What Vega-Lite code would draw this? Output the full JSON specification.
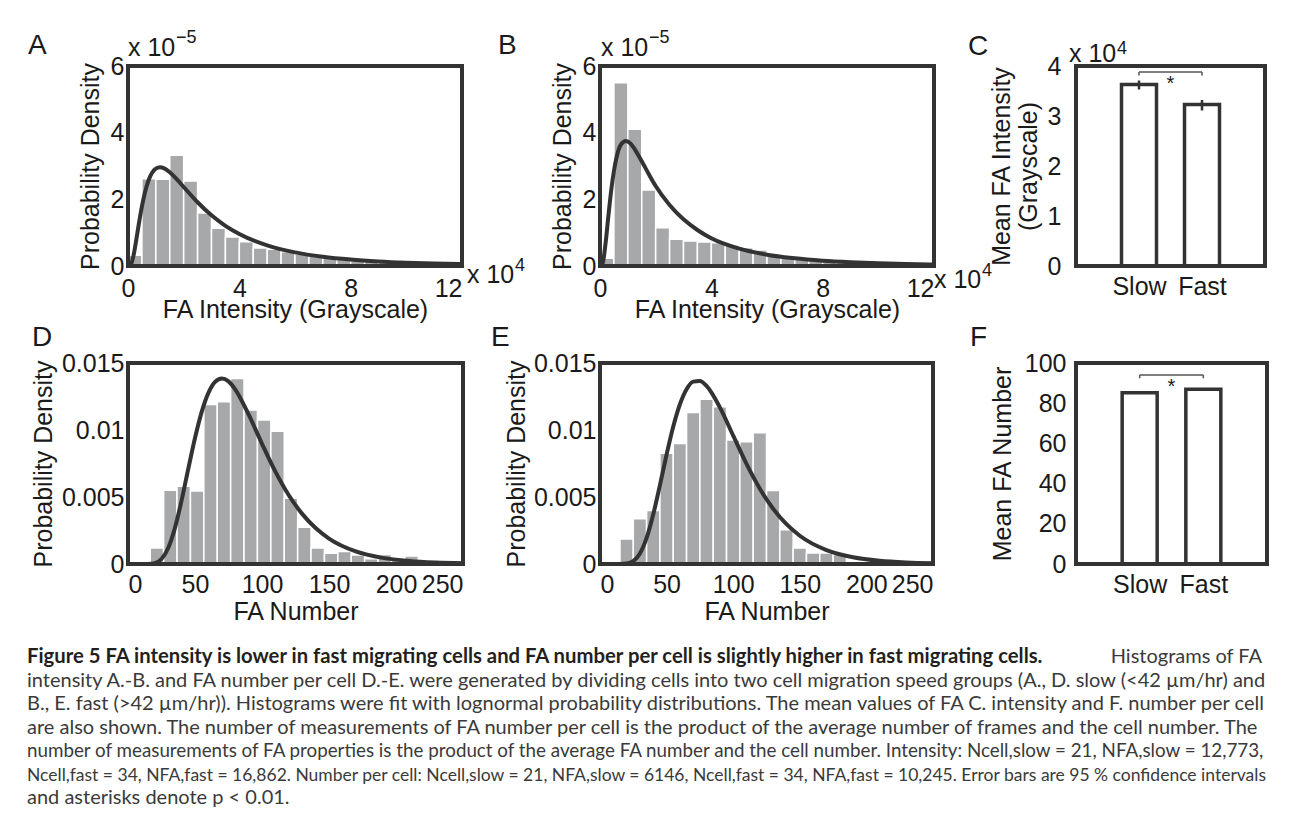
{
 "$schema": "https://vega.github.io/schema/vega-lite/v6.json",
 "background": "white",
 "padding": {"left": 27, "top": 29, "right": 5, "bottom": 5},
 "spacing": 23,
 "config": {
  "view": {"stroke": null},
  "font": "Liberation Sans",
  "axis": {"labelFont": "Liberation Sans", "labelFontSize": 25, "labelColor": "#1a1a1a", "titleFont": "Liberation Sans", "titleFontSize": 25, "titleFontWeight": "normal", "titleColor": "#1a1a1a", "grid": false, "domain": false, "ticks": false},
  "axisX": {"labelPadding": 10, "titlePadding": -4},
  "axisY": {"labelPadding": 4, "titlePadding": 7},
  "text": {"font": "Liberation Sans", "color": "#1a1a1a"}
 },
 "vconcat": [
 {
 "bounds": "flush",
 "columns": 3,
 "spacing": {"row": 97, "column": 137},
 "concat": [
  {
   "width": 334, "height": 200,
   "encoding": {
    "x": {"field": "x", "type": "quantitative", "scale": {"domain": [0, 12], "nice": false, "zero": false}, "axis": {"values": [0, 4, 8, 12], "title": "FA Intensity (Grayscale)", "labelAlign": {"condition": {"test": "datum.value == 12", "value": "right"}, "value": "center"}}},
    "y": {"field": "y", "type": "quantitative", "scale": {"domain": [0, 6], "nice": false}, "axis": {"values": [0, 2, 4, 6], "title": "Probability Density"}}
   },
   "layer": [
    {"data": {"values": [
      {"x": 0, "x2": 0.5, "y": 0.32}, {"x": 0.5, "x2": 1, "y": 2.62}, {"x": 1, "x2": 1.5, "y": 2.6}, {"x": 1.5, "x2": 2, "y": 3.32},
      {"x": 2, "x2": 2.5, "y": 2.55}, {"x": 2.5, "x2": 3, "y": 1.59}, {"x": 3, "x2": 3.5, "y": 1.13}, {"x": 3.5, "x2": 4, "y": 0.87},
      {"x": 4, "x2": 4.5, "y": 0.73}, {"x": 4.5, "x2": 5, "y": 0.54}, {"x": 5, "x2": 5.5, "y": 0.5}, {"x": 5.5, "x2": 6, "y": 0.43},
      {"x": 6, "x2": 6.5, "y": 0.35}, {"x": 6.5, "x2": 7, "y": 0.3}, {"x": 7, "x2": 7.5, "y": 0.25}, {"x": 7.5, "x2": 8, "y": 0.21},
      {"x": 8, "x2": 8.5, "y": 0.18}, {"x": 8.5, "x2": 9, "y": 0.15}, {"x": 9, "x2": 9.5, "y": 0.13}, {"x": 9.5, "x2": 10, "y": 0.11},
      {"x": 10, "x2": 10.5, "y": 0.09}, {"x": 10.5, "x2": 11, "y": 0.08}, {"x": 11, "x2": 11.5, "y": 0.07}, {"x": 11.5, "x2": 12, "y": 0.06}
     ]},
     "mark": {"type": "bar", "fill": "#a7a8aa", "stroke": "white", "strokeWidth": 1.5},
     "encoding": {"x2": {"field": "x2"}, "y2": {"datum": 0}}},
    {"data": {"values": [
      {"x": 0, "y": 0}, {"x": 0.1, "y": 0.039}, {"x": 0.2, "y": 0.321}, {"x": 0.3, "y": 0.798}, {"x": 0.4, "y": 1.318}, {"x": 0.5, "y": 1.789},
      {"x": 0.6, "y": 2.177}, {"x": 0.75, "y": 2.593}, {"x": 1, "y": 2.919}, {"x": 1.15, "y": 2.961}, {"x": 1.3, "y": 2.929}, {"x": 1.5, "y": 2.813},
      {"x": 1.75, "y": 2.606}, {"x": 2, "y": 2.371}, {"x": 2.5, "y": 1.912}, {"x": 3, "y": 1.52}, {"x": 3.5, "y": 1.205}, {"x": 4, "y": 0.96},
      {"x": 5, "y": 0.618}, {"x": 6, "y": 0.409}, {"x": 7, "y": 0.278}, {"x": 8, "y": 0.193}, {"x": 9, "y": 0.137}, {"x": 10, "y": 0.099},
      {"x": 11, "y": 0.073}, {"x": 12, "y": 0.055}
     ]},
     "mark": {"type": "line", "stroke": "#333333", "strokeWidth": 4, "interpolate": "monotone"},
     "encoding": {}},
    {"data": {"values": [{"x": 0, "y": 6, "t": "x 10", "s": "−5", "p": "A"}]},
     "mark": {"type": "text", "align": "left", "baseline": "alphabetic", "fontSize": 25, "dy": -10},
     "encoding": {"text": {"field": "t"}}},
    {"data": {"values": [{"x": 0, "y": 6, "t": "x 10", "s": "−5", "p": "A"}]},
     "mark": {"type": "text", "align": "left", "baseline": "alphabetic", "fontSize": 18, "dx": 48, "dy": -23},
     "encoding": {"text": {"field": "s"}}},
    {"data": {"values": [{"x": 0, "y": 6, "t": "x 10", "s": "−5", "p": "A"}]},
     "mark": {"type": "text", "align": "left", "baseline": "alphabetic", "fontSize": 28, "dx": -100, "dy": -12},
     "encoding": {"text": {"field": "p"}}},
    {"data": {"values": [{"x": 12, "y": 0, "t": "x 10", "s": "4"}]},
     "mark": {"type": "text", "align": "left", "baseline": "alphabetic", "fontSize": 25, "dx": 5, "dy": 17},
     "encoding": {"text": {"field": "t"}}},
    {"data": {"values": [{"x": 12, "y": 0, "t": "x 10", "s": "4"}]},
     "mark": {"type": "text", "align": "left", "baseline": "alphabetic", "fontSize": 18, "dx": 53, "dy": 5},
     "encoding": {"text": {"field": "s"}}},
    {"data": {"values": [{"x": 0, "x2": 12, "y": 0, "y2": 6}]},
     "mark": {"type": "rect", "fill": "transparent", "stroke": "#333333", "strokeWidth": 4},
     "encoding": {"x2": {"field": "x2"}, "y2": {"field": "y2"}}}
   ]
  },
  {
   "width": 334, "height": 200,
   "encoding": {
    "x": {"field": "x", "type": "quantitative", "scale": {"domain": [0, 12], "nice": false, "zero": false}, "axis": {"values": [0, 4, 8, 12], "title": "FA Intensity (Grayscale)", "labelAlign": {"condition": {"test": "datum.value == 12", "value": "right"}, "value": "center"}}},
    "y": {"field": "y", "type": "quantitative", "scale": {"domain": [0, 6], "nice": false}, "axis": {"values": [0, 2, 4, 6], "title": "Probability Density"}}
   },
   "layer": [
    {"data": {"values": [
      {"x": 0, "x2": 0.5, "y": 0.23}, {"x": 0.5, "x2": 1, "y": 5.5}, {"x": 1, "x2": 1.5, "y": 4.1}, {"x": 1.5, "x2": 2, "y": 2.28},
      {"x": 2, "x2": 2.5, "y": 1.15}, {"x": 2.5, "x2": 3, "y": 0.8}, {"x": 3, "x2": 3.5, "y": 0.75}, {"x": 3.5, "x2": 4, "y": 0.72},
      {"x": 4, "x2": 4.5, "y": 0.7}, {"x": 4.5, "x2": 5, "y": 0.63}, {"x": 5, "x2": 5.5, "y": 0.55}, {"x": 5.5, "x2": 6, "y": 0.48},
      {"x": 6, "x2": 6.5, "y": 0.3}, {"x": 6.5, "x2": 7, "y": 0.26}, {"x": 7, "x2": 7.5, "y": 0.22}, {"x": 7.5, "x2": 8, "y": 0.18},
      {"x": 8, "x2": 8.5, "y": 0.15}, {"x": 8.5, "x2": 9, "y": 0.12}, {"x": 9, "x2": 9.5, "y": 0.1}, {"x": 9.5, "x2": 10, "y": 0.08},
      {"x": 10, "x2": 10.5, "y": 0.1}, {"x": 10.5, "x2": 11, "y": 0.07}, {"x": 11, "x2": 11.5, "y": 0.05}, {"x": 11.5, "x2": 12, "y": 0.04}
     ]},
     "mark": {"type": "bar", "fill": "#a7a8aa", "stroke": "white", "strokeWidth": 1.5},
     "encoding": {"x2": {"field": "x2"}, "y2": {"datum": 0}}},
    {"data": {"values": [
      {"x": 0, "y": 0}, {"x": 0.1, "y": 0.1}, {"x": 0.2, "y": 0.68}, {"x": 0.3, "y": 1.49}, {"x": 0.4, "y": 2.25}, {"x": 0.5, "y": 2.85},
      {"x": 0.6, "y": 3.28}, {"x": 0.75, "y": 3.64}, {"x": 0.93, "y": 3.75}, {"x": 1.1, "y": 3.67}, {"x": 1.25, "y": 3.5}, {"x": 1.5, "y": 3.14},
      {"x": 1.75, "y": 2.76}, {"x": 2, "y": 2.4}, {"x": 2.5, "y": 1.83}, {"x": 3, "y": 1.4}, {"x": 3.5, "y": 1.08}, {"x": 4, "y": 0.83},
      {"x": 5, "y": 0.52}, {"x": 6, "y": 0.34}, {"x": 7, "y": 0.23}, {"x": 8, "y": 0.16}, {"x": 9, "y": 0.115}, {"x": 10, "y": 0.083},
      {"x": 11, "y": 0.06}, {"x": 12, "y": 0.045}
     ]},
     "mark": {"type": "line", "stroke": "#333333", "strokeWidth": 4, "interpolate": "monotone"},
     "encoding": {}},
    {"data": {"values": [{"x": 0, "y": 6, "t": "x 10", "s": "−5", "p": "B"}]},
     "mark": {"type": "text", "align": "left", "baseline": "alphabetic", "fontSize": 25, "dx": 1, "dy": -10},
     "encoding": {"text": {"field": "t"}}},
    {"data": {"values": [{"x": 0, "y": 6, "t": "x 10", "s": "−5", "p": "B"}]},
     "mark": {"type": "text", "align": "left", "baseline": "alphabetic", "fontSize": 18, "dx": 49, "dy": -23},
     "encoding": {"text": {"field": "s"}}},
    {"data": {"values": [{"x": 0, "y": 6, "t": "x 10", "s": "−5", "p": "B"}]},
     "mark": {"type": "text", "align": "left", "baseline": "alphabetic", "fontSize": 28, "dx": -102, "dy": -12},
     "encoding": {"text": {"field": "p"}}},
    {"data": {"values": [{"x": 12, "y": 0, "t": "x 10", "s": "4"}]},
     "mark": {"type": "text", "align": "left", "baseline": "alphabetic", "fontSize": 25, "dx": 0, "dy": 22},
     "encoding": {"text": {"field": "t"}}},
    {"data": {"values": [{"x": 12, "y": 0, "t": "x 10", "s": "4"}]},
     "mark": {"type": "text", "align": "left", "baseline": "alphabetic", "fontSize": 18, "dx": 48, "dy": 10},
     "encoding": {"text": {"field": "s"}}},
    {"data": {"values": [{"x": 0, "x2": 12, "y": 0, "y2": 6}]},
     "mark": {"type": "rect", "fill": "transparent", "stroke": "#333333", "strokeWidth": 4},
     "encoding": {"x2": {"field": "x2"}, "y2": {"field": "y2"}}}
   ]
  },
  {
   "width": 199, "height": 200,
   "encoding": {
    "x": {"field": "x", "type": "quantitative", "scale": {"domain": [0, 3], "nice": false, "zero": false}, "axis": {"values": [1, 2], "title": null, "labelPadding": 8, "labelExpr": "datum.value == 1 ? 'Slow' : 'Fast'"}},
    "y": {"field": "y", "type": "quantitative", "scale": {"domain": [0, 4], "nice": false}, "axis": {"values": [0, 1, 2, 3, 4], "title": ["Mean FA Intensity", "(Grayscale)"], "labelPadding": 10, "titlePadding": 6}}
   },
   "layer": [
    {"data": {"values": [{"x": 1, "group": "Slow", "y": 3.63}, {"x": 2, "group": "Fast", "y": 3.23}]},
     "mark": {"type": "bar", "width": 35, "fill": "white", "stroke": "#333333", "strokeWidth": 3.5}},
    {"data": {"values": [{"x": 1, "lo": 3.53, "hi": 3.71}, {"x": 2, "lo": 3.11, "hi": 3.32}]},
     "mark": {"type": "rule", "color": "#333333", "strokeWidth": 2.5},
     "encoding": {"y": {"field": "lo", "type": "quantitative"}, "y2": {"field": "hi"}}},
    {"data": {"values": [{"x": 1, "x2": 2, "y": 3.88}]},
     "mark": {"type": "rule", "color": "#555555", "strokeWidth": 1.5},
     "encoding": {"x2": {"field": "x2"}}},
    {"data": {"values": [{"x": 1, "y": 3.88, "foot": 3.81}, {"x": 2, "y": 3.88, "foot": 3.81}]},
     "mark": {"type": "rule", "color": "#555555", "strokeWidth": 1.5},
     "encoding": {"y2": {"field": "foot"}}},
    {"data": {"values": [{"x": 1.5, "y": 3.52, "t": "*"}]},
     "mark": {"type": "text", "align": "center", "baseline": "alphabetic", "fontSize": 20},
     "encoding": {"text": {"field": "t"}}},
    {"data": {"values": [{"x": 0, "y": 4, "t": "x 10", "s": "4", "p": "C"}]},
     "mark": {"type": "text", "align": "left", "baseline": "alphabetic", "fontSize": 25, "dx": -7, "dy": -4},
     "encoding": {"text": {"field": "t"}}},
    {"data": {"values": [{"x": 0, "y": 4, "t": "x 10", "s": "4", "p": "C"}]},
     "mark": {"type": "text", "align": "left", "baseline": "alphabetic", "fontSize": 18, "dx": 41, "dy": -12},
     "encoding": {"text": {"field": "s"}}},
    {"data": {"values": [{"x": 0, "y": 4, "t": "x 10", "s": "4", "p": "C"}]},
     "mark": {"type": "text", "align": "left", "baseline": "alphabetic", "fontSize": 28, "dx": -108, "dy": -11},
     "encoding": {"text": {"field": "p"}}},
    {"data": {"values": [{"x": 0, "x2": 3, "y": 0, "y2": 4}]},
     "mark": {"type": "rect", "fill": "transparent", "stroke": "#333333", "strokeWidth": 4},
     "encoding": {"x2": {"field": "x2"}, "y2": {"field": "y2"}}}
   ]
  },
  {
   "width": 335, "height": 201,
   "encoding": {
    "x": {"field": "x", "type": "quantitative", "scale": {"domain": [0, 250], "nice": false, "zero": false}, "axis": {"values": [0, 50, 100, 150, 200, 250], "title": "FA Number", "labelPadding": 8, "titlePadding": 2}},
    "y": {"field": "y", "type": "quantitative", "scale": {"domain": [0, 0.015], "nice": false}, "axis": {"values": [0, 0.005, 0.01, 0.015], "labelExpr": "format(datum.value, '.3~g')", "title": "Probability Density", "titlePadding": 5}}
   },
   "layer": [
    {"data": {"values": [
      {"x": 16.6, "x2": 26.6, "y": 0.0012}, {"x": 26.6, "x2": 36.6, "y": 0.0055}, {"x": 36.6, "x2": 46.6, "y": 0.0058},
      {"x": 46.6, "x2": 56.6, "y": 0.00545}, {"x": 56.6, "x2": 66.6, "y": 0.0119}, {"x": 66.6, "x2": 76.6, "y": 0.0121},
      {"x": 76.6, "x2": 86.6, "y": 0.01385}, {"x": 86.6, "x2": 96.6, "y": 0.0115}, {"x": 96.6, "x2": 106.6, "y": 0.01075},
      {"x": 106.6, "x2": 116.6, "y": 0.0099}, {"x": 116.6, "x2": 126.6, "y": 0.0049}, {"x": 126.6, "x2": 136.6, "y": 0.00275},
      {"x": 136.6, "x2": 146.6, "y": 0.0012}, {"x": 146.6, "x2": 156.6, "y": 0.0008}, {"x": 156.6, "x2": 166.6, "y": 0.00093},
      {"x": 166.6, "x2": 176.6, "y": 0.00068}, {"x": 176.6, "x2": 186.6, "y": 0.0004}, {"x": 186.6, "x2": 196.6, "y": 0.0007},
      {"x": 196.6, "x2": 206.6, "y": 0.0003}, {"x": 206.6, "x2": 216.6, "y": 0.0006}, {"x": 216.6, "x2": 226.6, "y": 0.0001}
     ]},
     "mark": {"type": "bar", "fill": "#a7a8aa", "stroke": "white", "strokeWidth": 1.5},
     "encoding": {"x2": {"field": "x2"}, "y2": {"datum": 0}}},
    {"data": {"values": [
      {"x": 0, "y": 0}, {"x": 10, "y": 0}, {"x": 15, "y": 0.0000042}, {"x": 20, "y": 0.0000648}, {"x": 25, "y": 0.00037}, {"x": 30, "y": 0.00119},
      {"x": 35, "y": 0.00268}, {"x": 40, "y": 0.00475}, {"x": 45, "y": 0.00711}, {"x": 50, "y": 0.0094}, {"x": 55, "y": 0.01135},
      {"x": 60, "y": 0.01277}, {"x": 65, "y": 0.01359}, {"x": 70, "y": 0.01385}, {"x": 75, "y": 0.01363}, {"x": 80, "y": 0.01303},
      {"x": 90, "y": 0.01116}, {"x": 100, "y": 0.00897}, {"x": 110, "y": 0.00689}, {"x": 120, "y": 0.00513}, {"x": 130, "y": 0.00374},
      {"x": 140, "y": 0.00268}, {"x": 150, "y": 0.0019}, {"x": 170, "y": 0.00094}, {"x": 190, "y": 0.000459}, {"x": 210, "y": 0.000224},
      {"x": 230, "y": 0.00011}, {"x": 250, "y": 0.0000544}
     ]},
     "mark": {"type": "line", "stroke": "#333333", "strokeWidth": 4, "interpolate": "monotone"},
     "encoding": {}},
    {"data": {"values": [{"x": 0, "y": 0.015, "p": "D"}]},
     "mark": {"type": "text", "align": "left", "baseline": "alphabetic", "fontSize": 28, "dx": -96, "dy": -17},
     "encoding": {"text": {"field": "p"}}},
    {"data": {"values": [{"x": 0, "x2": 250, "y": 0, "y2": 0.015}]},
     "mark": {"type": "rect", "fill": "transparent", "stroke": "#333333", "strokeWidth": 4},
     "encoding": {"x2": {"field": "x2"}, "y2": {"field": "y2"}}}
   ]
  },
  {
   "width": 333, "height": 201,
   "encoding": {
    "x": {"field": "x", "type": "quantitative", "scale": {"domain": [0, 250], "nice": false, "zero": false}, "axis": {"values": [0, 50, 100, 150, 200, 250], "title": "FA Number", "labelPadding": 8, "titlePadding": 2}},
    "y": {"field": "y", "type": "quantitative", "scale": {"domain": [0, 0.015], "nice": false}, "axis": {"values": [0, 0.005, 0.01, 0.015], "labelExpr": "format(datum.value, '.3~g')", "title": "Probability Density", "titlePadding": 4}}
   },
   "layer": [
    {"data": {"values": [
      {"x": 15, "x2": 25, "y": 0.00186}, {"x": 25, "x2": 35, "y": 0.00337}, {"x": 35, "x2": 45, "y": 0.004},
      {"x": 45, "x2": 55, "y": 0.00826}, {"x": 55, "x2": 65, "y": 0.009}, {"x": 65, "x2": 75, "y": 0.01131},
      {"x": 75, "x2": 85, "y": 0.0123}, {"x": 85, "x2": 95, "y": 0.01173}, {"x": 95, "x2": 105, "y": 0.00925},
      {"x": 105, "x2": 115, "y": 0.00912}, {"x": 115, "x2": 125, "y": 0.0098}, {"x": 125, "x2": 135, "y": 0.00548},
      {"x": 135, "x2": 145, "y": 0.00255}, {"x": 145, "x2": 155, "y": 0.00119}, {"x": 155, "x2": 165, "y": 0.00082},
      {"x": 165, "x2": 175, "y": 0.00082}, {"x": 175, "x2": 185, "y": 0.0007}
     ]},
     "mark": {"type": "bar", "fill": "#a7a8aa", "stroke": "white", "strokeWidth": 1.5},
     "encoding": {"x2": {"field": "x2"}, "y2": {"datum": 0}}},
    {"data": {"values": [
      {"x": 0, "y": 0}, {"x": 10, "y": 0}, {"x": 15, "y": 0.0000016}, {"x": 20, "y": 0.0000324}, {"x": 25, "y": 0.000218}, {"x": 30, "y": 0.00079},
      {"x": 35, "y": 0.001949}, {"x": 40, "y": 0.003713}, {"x": 45, "y": 0.005887}, {"x": 50, "y": 0.00817}, {"x": 55, "y": 0.010256},
      {"x": 60, "y": 0.01192}, {"x": 65, "y": 0.013045}, {"x": 70, "y": 0.01361}, {"x": 75, "y": 0.01366}, {"x": 80, "y": 0.01329},
      {"x": 90, "y": 0.01169}, {"x": 100, "y": 0.00958}, {"x": 110, "y": 0.00747}, {"x": 120, "y": 0.00562}, {"x": 130, "y": 0.00412},
      {"x": 140, "y": 0.00297}, {"x": 150, "y": 0.00211}, {"x": 170, "y": 0.00104}, {"x": 190, "y": 0.000505}, {"x": 210, "y": 0.000244},
      {"x": 230, "y": 0.000118}, {"x": 250, "y": 0.0000579}
     ]},
     "mark": {"type": "line", "stroke": "#333333", "strokeWidth": 4, "interpolate": "monotone"},
     "encoding": {}},
    {"data": {"values": [{"x": 0, "y": 0.015, "p": "E"}]},
     "mark": {"type": "text", "align": "left", "baseline": "alphabetic", "fontSize": 28, "dx": -109, "dy": -17},
     "encoding": {"text": {"field": "p"}}},
    {"data": {"values": [{"x": 0, "x2": 250, "y": 0, "y2": 0.015}]},
     "mark": {"type": "rect", "fill": "transparent", "stroke": "#333333", "strokeWidth": 4},
     "encoding": {"x2": {"field": "x2"}, "y2": {"field": "y2"}}}
   ]
  },
  {
   "width": 201, "height": 201,
   "encoding": {
    "x": {"field": "x", "type": "quantitative", "scale": {"domain": [0, 3], "nice": false, "zero": false}, "axis": {"values": [1, 2], "title": null, "labelPadding": 8, "labelExpr": "datum.value == 1 ? 'Slow' : 'Fast'"}},
    "y": {"field": "y", "type": "quantitative", "scale": {"domain": [0, 100], "nice": false}, "axis": {"values": [0, 20, 40, 60, 80, 100], "title": "Mean FA Number", "labelPadding": 5, "titlePadding": 9}}
   },
   "layer": [
    {"data": {"values": [{"x": 1, "group": "Slow", "y": 85.2}, {"x": 2, "group": "Fast", "y": 86.9}]},
     "mark": {"type": "bar", "width": 35, "fill": "white", "stroke": "#333333", "strokeWidth": 3.5}},
    {"data": {"values": [{"x": 1, "x2": 2, "y": 94.0}]},
     "mark": {"type": "rule", "color": "#555555", "strokeWidth": 1.5},
     "encoding": {"x2": {"field": "x2"}}},
    {"data": {"values": [{"x": 1, "y": 94.0, "foot": 92.4}, {"x": 2, "y": 94.0, "foot": 92.4}]},
     "mark": {"type": "rule", "color": "#555555", "strokeWidth": 1.5},
     "encoding": {"y2": {"field": "foot"}}},
    {"data": {"values": [{"x": 1.5, "y": 85.1, "t": "*", "p": "F"}]},
     "mark": {"type": "text", "align": "center", "baseline": "alphabetic", "fontSize": 20},
     "encoding": {"text": {"field": "t"}}},
    {"data": {"values": [{"x": 0, "y": 100, "p": "F"}]},
     "mark": {"type": "text", "align": "left", "baseline": "alphabetic", "fontSize": 28, "dx": -106, "dy": -17},
     "encoding": {"text": {"field": "p"}}},
    {"data": {"values": [{"x": 0, "x2": 3, "y": 0, "y2": 100}]},
     "mark": {"type": "rect", "fill": "transparent", "stroke": "#333333", "strokeWidth": 4},
     "encoding": {"x2": {"field": "x2"}, "y2": {"field": "y2"}}}
   ]
  }
 ]
 },
 {
   "width": 1134, "height": 141,
   "layer": [
    {"data": {"values": [{"line": 1, "text": "Figure 5 FA intensity is lower in fast migrating cells and FA number per cell is slightly higher in fast migrating cells."}]},
     "mark": {"type": "text", "align": "left", "baseline": "alphabetic", "font": "Lato", "fontSize": 20.3, "fontWeight": "bold", "color": "#231f20", "dx": -101},
     "encoding": {"x": {"value": 0}, "y": {"field": "line", "type": "ordinal", "axis": null, "scale": {"type": "point", "padding": 0, "domain": [1, 2, 3, 4, 5, 6, 7]}}, "text": {"field": "text"}}},
    {"data": {"values": [{"line": 1, "text": "Histograms of FA"}]},
     "mark": {"type": "text", "align": "right", "baseline": "alphabetic", "font": "Lato", "fontSize": 20, "color": "#3a3a3a"},
     "encoding": {"x": {"value": "width"}, "y": {"field": "line", "type": "ordinal", "axis": null, "scale": {"type": "point", "padding": 0, "domain": [1, 2, 3, 4, 5, 6, 7]}}, "text": {"field": "text"}}},
    {"data": {"values": [
      {"line": 2, "text": "intensity A.-B. and FA number per cell D.-E. were generated by dividing cells into two cell migration speed groups (A., D. slow (<42 µm/hr) and"},
      {"line": 3, "text": "B., E. fast (>42 µm/hr)). Histograms were fit with lognormal probability distributions. The mean values of FA C. intensity and F. number per cell"},
      {"line": 4, "text": "are also shown. The number of measurements of FA number per cell is the product of the average number of frames and the cell number. The"},
      {"line": 7, "text": "and asterisks denote p < 0.01."}
     ]},
     "mark": {"type": "text", "align": "left", "baseline": "alphabetic", "font": "Lato", "fontSize": 20, "color": "#3a3a3a", "dx": -101},
     "encoding": {"x": {"value": 0}, "y": {"field": "line", "type": "ordinal", "axis": null, "scale": {"type": "point", "padding": 0, "domain": [1, 2, 3, 4, 5, 6, 7]}}, "text": {"field": "text"}}},
    {"data": {"values": [
      {"line": 5, "text": "number of measurements of FA properties is the product of the average FA number and the cell number. Intensity: Ncell,slow = 21, NFA,slow = 12,773,"}
     ]},
     "mark": {"type": "text", "align": "left", "baseline": "alphabetic", "font": "Lato", "fontSize": 18.8, "color": "#3a3a3a", "dx": -101},
     "encoding": {"x": {"value": 0}, "y": {"field": "line", "type": "ordinal", "axis": null, "scale": {"type": "point", "padding": 0, "domain": [1, 2, 3, 4, 5, 6, 7]}}, "text": {"field": "text"}}},
    {"data": {"values": [
      {"line": 6, "text": "Ncell,fast = 34, NFA,fast = 16,862. Number per cell: Ncell,slow = 21, NFA,slow = 6146, Ncell,fast = 34, NFA,fast = 10,245. Error bars are 95 % confidence intervals"}
     ]},
     "mark": {"type": "text", "align": "left", "baseline": "alphabetic", "font": "Lato", "fontSize": 17.5, "color": "#3a3a3a", "dx": -101},
     "encoding": {"x": {"value": 0}, "y": {"field": "line", "type": "ordinal", "axis": null, "scale": {"type": "point", "padding": 0, "domain": [1, 2, 3, 4, 5, 6, 7]}}, "text": {"field": "text"}}}
   ]
 }
 ]
}
